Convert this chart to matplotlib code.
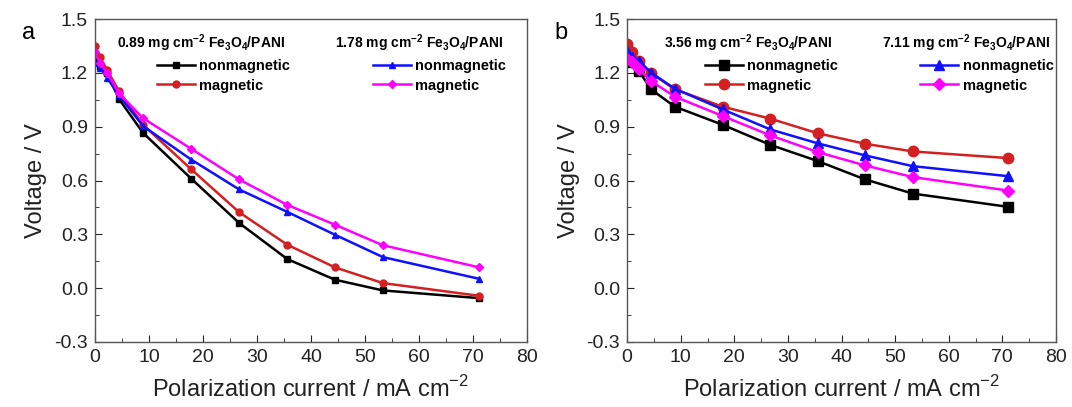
import matplotlib
matplotlib.use('Agg')
import matplotlib.pyplot as plt
from matplotlib.legend import Legend
from matplotlib.ticker import MultipleLocator

plt.rcParams['font.family'] = ['Liberation Sans', 'DejaVu Sans']
plt.rcParams['mathtext.fontset'] = 'custom'
plt.rcParams['mathtext.rm'] = 'Liberation Sans'
plt.rcParams['mathtext.bf'] = 'Liberation Sans:bold'

# polarization current (mA cm-2)
current = [0, 0.89, 2.22, 4.44, 8.89, 17.8, 26.7, 35.6, 44.4, 53.3, 71.1]

# panel a: 0.89 and 1.78 mg cm-2 Fe3O4/PANI
a_low_nonmag = [1.27, 1.24, 1.20, 1.055, 0.866, 0.611, 0.363, 0.162, 0.047, -0.013, -0.056]
a_low_mag = [1.35, 1.29, 1.217, 1.099, 0.911, 0.663, 0.423, 0.242, 0.116, 0.028, -0.043]
a_high_nonmag = [1.258, 1.23, 1.174, 1.075, 0.904, 0.717, 0.55, 0.425, 0.298, 0.173, 0.052]
a_high_mag = [1.314, 1.258, 1.202, 1.086, 0.948, 0.777, 0.606, 0.464, 0.354, 0.239, 0.116]

# panel b: 3.56 and 7.11 mg cm-2 Fe3O4/PANI
b_low_nonmag = [1.323, 1.26, 1.211, 1.109, 1.012, 0.911, 0.799, 0.708, 0.606, 0.527, 0.453]
b_low_mag = [1.36, 1.317, 1.267, 1.198, 1.109, 1.012, 0.945, 0.863, 0.805, 0.762, 0.725]
b_high_nonmag = [1.323, 1.29, 1.267, 1.202, 1.112, 0.997, 0.885, 0.807, 0.74, 0.68, 0.624]
b_high_mag = [1.276, 1.26, 1.22, 1.155, 1.068, 0.96, 0.852, 0.758, 0.684, 0.619, 0.544]

loadings_a = ['0.89', '1.78']
loadings_b = ['3.56', '7.11']
labels = ['nonmagnetic', 'magnetic']

fig = plt.figure(figsize=(10.72, 4.07), dpi=100)
ax_a = fig.add_axes([0.0886, 0.160, 0.403, 0.793])
ax_b = fig.add_axes([0.585, 0.160, 0.400, 0.793])

def title_text(load):
    return load + r' mg cm$^{\mathbf{-2}}$ Fe$_{\mathbf{3}}$O$_{\mathbf{4}}$/PANI'

def draw(ax, series, loads, ms, title_x, leg_x, letter):
    styles = [('black', 's'), ('#d42020', 'o'), ('#1010ff', '^'), ('#ff00ff', 'D')]
    lines = []
    for y, (c, m) in zip(series, styles):
        msize = ms * 0.85 if m == 'D' else ms
        ln, = ax.plot(current, y, color=c, marker=m, markersize=msize, lw=1.8)
        lines.append(ln)
    ax.set_xlim(0, 80)
    ax.set_ylim(-0.3, 1.5)
    ax.xaxis.set_major_locator(MultipleLocator(10))
    ax.xaxis.set_minor_locator(MultipleLocator(5))
    ax.yaxis.set_major_locator(MultipleLocator(0.3))
    ax.yaxis.set_minor_locator(MultipleLocator(0.15))
    ax.yaxis.set_major_formatter(plt.FuncFormatter(lambda v, p: f'{v:.1f}'))
    ax.tick_params(which='both', direction='in', top=False, right=False, labelsize=14, colors='#222222')
    ax.tick_params(which='major', length=5)
    ax.tick_params(which='minor', length=3)
    ax.tick_params(axis='x', pad=5)
    ax.tick_params(axis='y', pad=5)
    for s in ax.spines.values():
        s.set_color('#555555')
        s.set_linewidth(1.0)
    ax.set_xlabel(r'Polarization current / mA cm$^{-2}$', fontsize=17, labelpad=7, color='#222222')
    ax.set_ylabel('Voltage / V', fontsize=17, labelpad=5, color='#222222')

    for i in range(2):
        ax.text(title_x[i], 0.925, title_text(loads[i]), transform=ax.transAxes,
                fontsize=10, fontweight='bold', va='center', ha='left')
        leg = Legend(ax, lines[2 * i:2 * i + 2], labels, loc='upper left',
                     bbox_to_anchor=(leg_x[i], 0.875), frameon=False,
                     borderpad=0, borderaxespad=0, handlelength=2.6,
                     handletextpad=0.3, labelspacing=0.35,
                     prop={'weight': 'bold', 'size': 10.5})
        ax.add_artist(leg)
    fig.text(ax.get_position().x0 - 0.068, 0.905, letter, fontsize=17)

draw(ax_a, [a_low_nonmag, a_low_mag, a_high_nonmag, a_high_mag], loadings_a, 5,
     [0.051, 0.556], [0.143, 0.644], 'a')
draw(ax_b, [b_low_nonmag, b_low_mag, b_high_nonmag, b_high_mag], loadings_b, 7.5,
     [0.086, 0.595], [0.181, 0.684], 'b')

fig.savefig('out.png', dpi=100)
